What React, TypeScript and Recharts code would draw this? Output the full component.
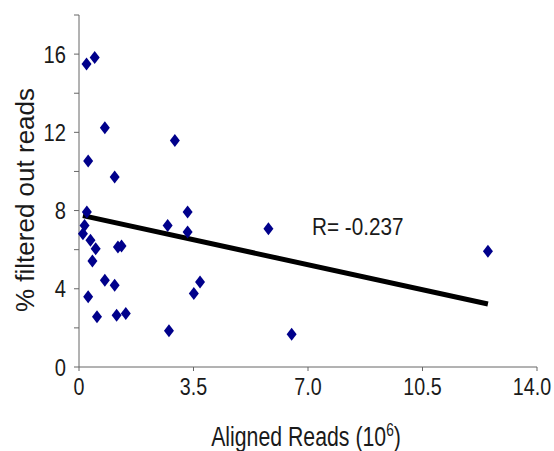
import React from 'react';
import { ScatterChart, Scatter, XAxis, YAxis, ReferenceLine, Label } from 'recharts';

// aligned reads (10^6) and % filtered out reads
const alignedReads = [
  0.23, 0.48, 0.79, 0.28, 1.09, 2.93, 0.24, 3.32, 0.17, 0.12, 0.35, 0.51, 0.41, 1.19, 1.3,
  0.79, 1.09, 0.28, 0.55, 1.15, 1.43, 2.71, 3.32, 2.75, 3.51, 3.7, 5.79, 6.5, 12.5,
];
const filteredPct = [
  15.5, 15.83, 12.23, 10.53, 9.71, 11.58, 7.92, 7.92, 7.24, 6.82, 6.48, 6.05, 5.42, 6.14, 6.19,
  4.44, 4.18, 3.59, 2.57, 2.65, 2.74, 7.24, 6.9, 1.85, 3.76, 4.35, 7.07, 1.68, 5.92,
];

// regression line ends
const trendX = [0.12, 12.5];
const trendY = [7.74, 3.22];

const xTicks = [0, 3.5, 7, 10.5, 14];
const yTicks = [0, 2, 4, 6, 8, 10, 12, 14, 16, 18];
const rLabel = 'R= -0.237';

const points = alignedReads.map((x, i) => ({ x, y: filteredPct[i] }));

const FONT = '"Liberation Sans", Arial, sans-serif';
const TEXT = '#1a1a1a';
const AXIS = '#666';
const NAVY = '#00008B';
const CHART_W = 554;

const Diamond = (props: any) => {
  const { cx, cy } = props;
  if (cx == null || cy == null) return <g />;
  return (
    <polygon
      points={`${cx},${cy - 6.5} ${cx + 5},${cy} ${cx},${cy + 6.5} ${cx - 5},${cy}`}
      fill={NAVY}
    />
  );
};

const YTick = (props: any) => {
  const { x, y, payload } = props;
  if (payload.value % 4 !== 0) return <g />;
  return (
    <g transform={`translate(${x},${y}) scale(0.84,1)`}>
      <text x={0} y={0} dy="0.355em" textAnchor="end" fontSize={24} fill={TEXT} fontFamily={FONT}>
        {payload.value}
      </text>
    </g>
  );
};

const XTick = (props: any) => {
  const { x, y, payload } = props;
  const v = payload.value === 0 ? '0' : Number(payload.value).toFixed(1);
  // keep the last label inside the picture
  const half = v.length * 5;
  const cx = Math.min(x, CHART_W - 2 - half);
  return (
    <g transform={`translate(${cx},${y}) scale(0.82,1)`}>
      <text x={0} y={0} dy="0.71em" textAnchor="middle" fontSize={24} fill={TEXT} fontFamily={FONT}>
        {v}
      </text>
    </g>
  );
};

export default function App() {
  return (
    <div style={{ position: 'absolute', left: 0, top: 0, width: CHART_W, height: 451, background: '#fff' }}>
      <ScatterChart width={CHART_W} height={451} margin={{ top: 15, right: 17, bottom: 44, left: 0 }}>
        <XAxis
          type="number"
          dataKey="x"
          domain={[0, 14]}
          ticks={xTicks}
          interval={0}
          stroke={AXIS}
          tickSize={4}
          tickMargin={7}
          height={40}
          tick={<XTick />}
        >
          <Label
            content={() => (
              <g transform="translate(306,446) scale(0.76,1)">
                <text x={0} y={0} textAnchor="middle" fontSize={28} fill={TEXT} fontFamily={FONT}>
                  Aligned Reads (10
                  <tspan dy={-10} fontSize={18}>6</tspan>
                  <tspan dy={10}>)</tspan>
                </text>
              </g>
            )}
          />
        </XAxis>
        <YAxis
          type="number"
          dataKey="y"
          domain={[0, 18]}
          ticks={yTicks}
          interval={0}
          stroke={AXIS}
          tickSize={5}
          tickMargin={8}
          width={79}
          tick={<YTick />}
        >
          <Label
            content={() => (
              <text
                transform="translate(34,200) rotate(-90)"
                textAnchor="middle"
                fontSize={26}
                fill={TEXT}
                fontFamily={FONT}
              >
                % filtered out reads
              </text>
            )}
          />
        </YAxis>
        <ReferenceLine
          segment={[
            { x: trendX[0], y: trendY[0] },
            { x: trendX[1], y: trendY[1] },
          ]}
          stroke="#000"
          strokeWidth={5}
          ifOverflow="visible"
        >
          <Label
            content={() => (
              <g transform="translate(312,235) scale(0.9,1)">
                <text x={0} y={0} fontSize={23} fill={TEXT} fontFamily={FONT}>
                  {rLabel}
                </text>
              </g>
            )}
          />
        </ReferenceLine>
        <Scatter data={points} shape={<Diamond />} isAnimationActive={false} />
      </ScatterChart>
    </div>
  );
}
